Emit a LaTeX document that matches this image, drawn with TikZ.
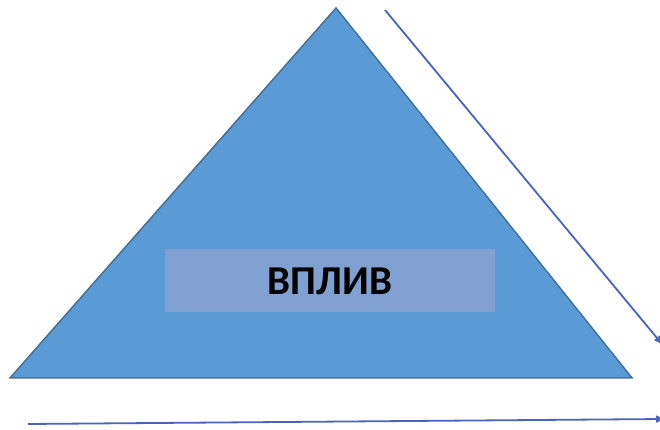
\documentclass[tikz,border=0pt]{standalone}
\usepackage{fontspec}
\setmainfont{Carlito}
\usetikzlibrary{arrows.meta}
\definecolor{trifill}{HTML}{5B9BD5}
\definecolor{triline}{HTML}{41719C}
\definecolor{boxfill}{HTML}{7FA0D0}
\definecolor{arrcol}{HTML}{4A62C0}
\begin{document}
\begin{tikzpicture}[x=1pt,y=1pt,
  arr/.style={draw=arrcol,line width=1.8pt,-{Triangle[length=8pt,width=7pt]}},
  label/.style={fill=boxfill,minimum width=330pt,minimum height=63pt,inner sep=0pt,font=\fontsize{41}{41}\selectfont\bfseries}]
\useasboundingbox (0,0) rectangle (660,430);
\coordinate (apex) at (336,422);
\coordinate (bl) at (10,52);
\coordinate (br) at (632,52);
\filldraw[fill=trifill,draw=triline,line width=1.5pt] (apex) -- (br) -- (bl) -- cycle;
\node[label] (txt) at (330,149) {ВПЛИВ};
\coordinate (a1s) at (385,420);
\coordinate (a1e) at (662,86);
\draw[arr] (a1s) -- (a1e);
\coordinate (a2s) at (28,6);
\coordinate (a2e) at (664,11);
\draw[arr] (a2s) -- (a2e);
\end{tikzpicture}
\end{document}
